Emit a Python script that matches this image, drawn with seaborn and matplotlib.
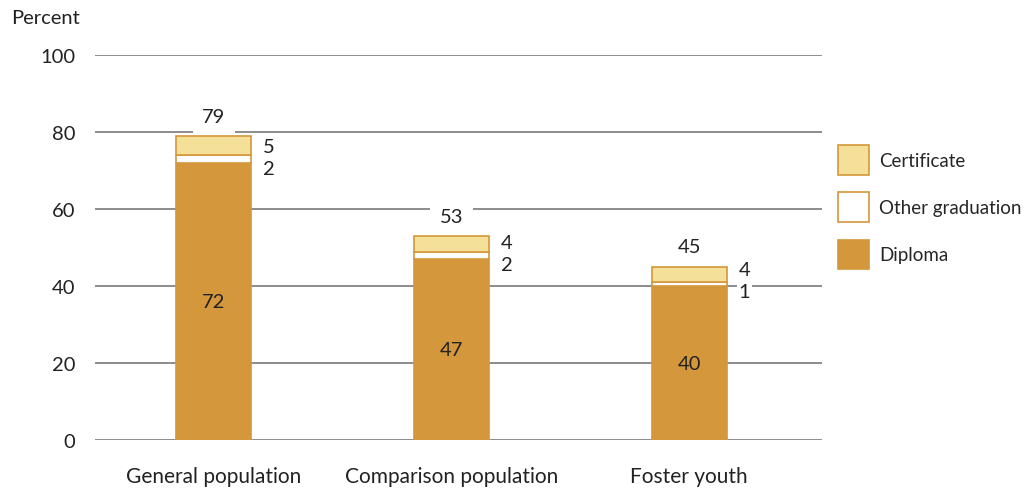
import matplotlib.pyplot as plt
import seaborn as sns
import pandas as pd
from matplotlib.patches import Patch

groups = ["General population", "Comparison population", "Foster youth"]
diploma = [72, 47, 40]
other_grad = [2, 2, 1]
certificate = [5, 4, 4]
totals = [79, 53, 45]

DIPLOMA_C = "#D4973B"
CERT_C = "#F5E09A"
GRID_C = "#8C8C8C"
TXT = "#222222"

sns.set_theme(style="white")
plt.rcParams['font.family'] = ['Lato', 'DejaVu Sans']

df = pd.DataFrame({"group": groups, "diploma": diploma,
                   "other": other_grad, "cert": certificate})
df["other_bottom"] = df["diploma"]
df["cert_bottom"] = df["diploma"] + df["other"]

fig = plt.figure(figsize=(10.33, 4.89), dpi=100)
ax = fig.add_axes([0.092, 0.098, 0.704, 0.787])

bw = 0.315
sns.barplot(data=df, x="group", y="diploma", color=DIPLOMA_C, width=bw,
            edgecolor=DIPLOMA_C, linewidth=1.2, saturation=1, ax=ax, zorder=3)
sns.barplot(data=df, x="group", y="other", bottom=df["other_bottom"], color="white",
            width=bw, edgecolor=DIPLOMA_C, linewidth=1.2, saturation=1, ax=ax, zorder=3)
sns.barplot(data=df, x="group", y="cert", bottom=df["cert_bottom"], color=CERT_C,
            width=bw, edgecolor=DIPLOMA_C, linewidth=1.2, saturation=1, ax=ax, zorder=3)

ax.set_xlim(-0.5, 2.56)
ax.set_ylim(0, 100)
ax.set_yticks(range(0, 101, 20))
ax.yaxis.grid(True, color=GRID_C, linewidth=1.4, zorder=0)
ax.set_axisbelow(True)
for s in ax.spines.values():
    s.set_visible(False)
ax.tick_params(axis="x", length=0, labelsize=15, colors=TXT, pad=19)
ax.tick_params(axis="y", length=0, labelsize=14.5, colors=TXT, pad=14)
ax.set_xlabel("")
ax.set_ylabel("")
ax.text(-0.115, 1.075, "Percent", transform=ax.transAxes, fontsize=14.5,
        color=TXT, ha="left", va="bottom")

for i in range(len(groups)):
    d, o, c, t = diploma[i], other_grad[i], certificate[i], totals[i]
    ax.text(i, d / 2, str(d), ha="center", va="center", fontsize=14.5, color=TXT, zorder=5)
    y_o = d - 1.4
    ax.text(i + bw / 2 + 0.05, y_o, str(o), ha="left", va="center", fontsize=14.5,
            color=TXT, zorder=5,
            bbox=dict(facecolor="white", edgecolor="none", pad=1))
    ax.text(i + bw / 2 + 0.05, y_o + 5.75, str(c), ha="left", va="center", fontsize=14.5,
            color=TXT, zorder=5,
            bbox=dict(facecolor="white", edgecolor="none", pad=1))
    ax.text(i, t + 3, str(t), ha="center", va="bottom", fontsize=14.5, color=TXT, zorder=5,
            bbox=dict(facecolor="white", edgecolor="none", pad=7))

handles = [Patch(facecolor=CERT_C, edgecolor=DIPLOMA_C, linewidth=1.2, label="Certificate"),
           Patch(facecolor="white", edgecolor=DIPLOMA_C, linewidth=1.2, label="Other graduation"),
           Patch(facecolor=DIPLOMA_C, edgecolor=DIPLOMA_C, linewidth=1.2, label="Diploma")]
fig.legend(handles=handles, loc="upper left", bbox_to_anchor=(0.804, 0.716), frameon=False,
           fontsize=13.5, handlelength=1.65, handleheight=2.07, labelspacing=0.92,
           handletextpad=0.55, borderaxespad=0)

fig.savefig("out.png", dpi=100)
